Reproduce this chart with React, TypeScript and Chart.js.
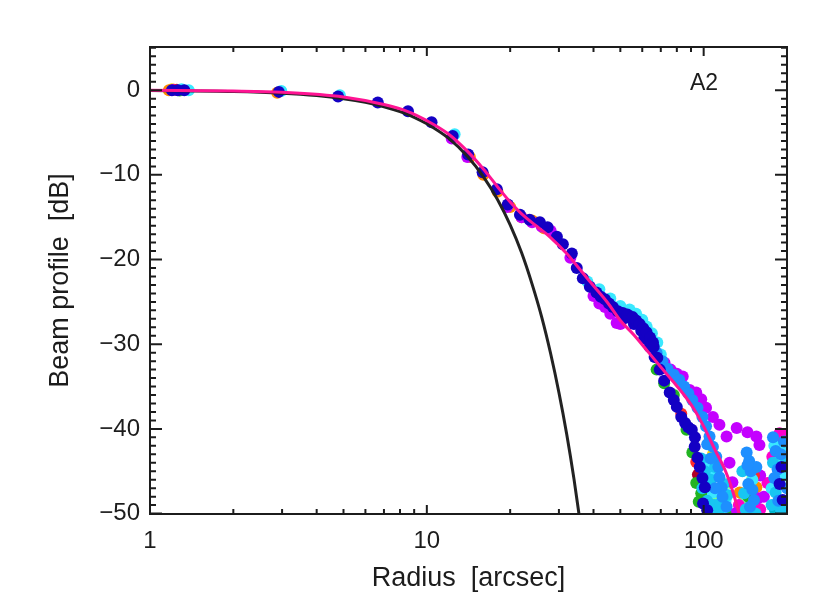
import React, { useEffect, useRef } from "react";
import { Chart, registerables } from "chart.js";

Chart.register(...registerables);

type Pt = [number, number];

// radius [arcsec], beam profile [dB]
const gaussR = [1, 2, 3, 4, 5, 6, 7, 8, 9, 10, 12, 14, 16, 18, 20, 22, 24, 26, 28, 30, 32, 34, 35.5];
const gaussDb = [-0.04, -0.16, -0.36, -0.64, -1.0, -1.43, -1.95, -2.54, -3.2, -3.97, -5.7, -7.8, -10.2, -12.9, -15.9, -19.2, -22.9, -26.8, -31.1, -35.7, -40.6, -45.9, -50.2];

const fitR = [1, 2, 3, 5, 7, 8.5, 10, 12, 14, 16, 18, 20, 22, 25, 28, 32, 36, 40, 45, 50, 56, 63, 70, 78, 85, 92, 100, 110, 120, 128, 135];
const fitDb = [0, -0.1, -0.25, -0.8, -1.7, -2.5, -3.6, -5.2, -7.2, -9.3, -11.4, -13.2, -14.6, -16.1, -17.4, -19.3, -21.3, -23.1, -25.1, -27.2, -28.9, -30.9, -32.7, -34.5, -36.0, -37.6, -39.7, -42.5, -45.0, -47.6, -50.3];

const darkBlue: Pt[] = [
  [1.2, 0], [1.26, 0], [1.33, 0], [2.92, -0.2], [4.78, -0.75], [6.65, -1.45], [8.55, -2.5],
  [10.4, -3.8], [12.4, -5.4], [14.1, -7.6], [15.9, -9.7], [17.9, -11.7], [19.6, -13.5],
  [21.7, -14.7], [23.5, -15.3], [25.6, -15.6], [27.3, -16.2], [29.5, -17.3], [31, -18.2],
  [33.4, -19.3], [34.8, -21], [36.6, -22.2], [38.8, -23.2], [41, -23.9], [42.5, -24.4], [44, -24.7],
  [45.5, -25.2], [47, -25.6], [49, -26.1], [51, -26.3], [52, -26.9], [53, -26.5], [55.4, -26.8],
  [56, -27.6], [57, -27.2], [58.7, -27.6], [59.5, -28.4], [60.5, -28.1], [61, -29.3], [62.2, -28.6],
  [64, -29.2], [65.6, -29.8], [63.8, -30.3], [66, -30.3], [66.5, -31.5], [68, -31.6],
  [69.4, -33], [72, -34.3], [75.4, -35.7], [78, -36.6], [80, -37.4], [83, -38.6], [85.7, -39.3],
  [88, -39.8], [90.6, -40.1], [93, -41], [92.8, -42.1], [95, -43.4], [96.8, -44.5], [99, -45.8],
  [101, -46.9], [99.5, -48.8], [103, -49.6], [191, -44.5], [193, -48.4], [188, -46.5],
];

const lightBlue: Pt[] = [
  [67.6, -31], [71, -32], [74, -32.9], [78, -33.6], [81.6, -34.2], [85, -35], [88, -35.8],
  [91, -36.6], [95, -37.5], [99, -38.6], [102, -39.7], [105, -40.9], [108, -42.1], [111, -43.3],
  [113, -44.5], [114, -45.7], [116, -46.9], [117, -48], [121, -49.2], [110, -47], [106, -43.5],
  [103, -41.8], [143, -42.8], [146, -43.8], [148, -45], [145, -46.5], [150, -47.2], [152, -48.4],
  [147, -49.2], [155, -44.5], [144, -44.3], [178, -41], [182, -42.6], [185, -44.8], [195, -41.5],
  [190, -43], [186, -48.5], [200, -47], [180, -45.8],
];

const skyBlue: Pt[] = [
  [98, -43.5], [101, -45], [99, -47], [103, -48.5], [106, -46], [110, -44.5], [113, -50],
  [118, -46.5], [122, -47.8], [105, -50], [109, -49], [115, -48.8], [140, -47.6], [138, -45],
  [142, -49.5], [154, -50], [178, -44], [182, -47.5], [190, -49.5], [198, -44], [176, -49],
];

const cyan: Pt[] = [
  [1.3, 0.1], [1.38, 0], [2.98, -0.1], [4.85, -0.6], [12.6, -5.2], [38, -22.6], [42, -23.5],
  [46, -24.6], [50, -25.5], [54, -25.9], [57, -26.4], [60, -27.1], [62.2, -27.9], [65, -28.7],
  [68, -29.8], [70, -31.2], [100, -44], [104, -46], [108, -47.5], [112, -49], [116, -50],
  [120, -48.5], [107, -44.8], [180, -42], [184, -44], [186, -46], [196, -42.5], [198, -45.5],
  [176, -47], [150, -46],
];

const purple: Pt[] = [
  [12.3, -5.7], [14, -7.9], [19.5, -13.8], [22, -15], [24, -15.6], [26, -16.1], [28, -16.6],
  [33, -19.8], [40, -24.3], [42, -25.2], [44, -25.6], [46, -26.4], [48.5, -27.5], [50, -27.6],
  [72.2, -32.2], [76, -33], [80, -33.5], [84, -33.8], [89, -35.4], [94, -35.7], [98, -36.5],
  [102, -37.5], [108, -38.6], [114, -39.5], [121, -40.9], [131.6, -39.9], [144, -40.4],
  [155, -40.9], [159, -41.9], [124, -44], [127, -46.3], [160, -45.5], [165, -48], [130, -50],
  [105, -49.2], [157, -48.2],
];

const magenta: Pt[] = [
  [1.22, 0.05], [188, -40.5], [183, -41.3], [196, -40.8], [200, -41.5], [177, -43.3],
  [170, -46.4], [134, -49], [102, -48.8], [106, -50], [160, -49.5], [125, -50.2],
];

const green: Pt[] = [
  [1.28, -0.05], [67.6, -33], [72, -34.6], [78, -36], [86.7, -40.1], [91, -42.8], [94, -46.4],
  [98, -47.6], [96, -48.6], [120, -50], [145, -48],
];

const red: Pt[] = [[1.25, 0.05], [94, -43.9], [83, -38.2], [152, -45.5]];
const darkRed: Pt[] = [[95.3, -45.4]];
const orange: Pt[] = [
  [1.17, 0], [2.88, -0.3], [14.3, -7.9], [16, -10], [18, -12], [20, -13.8], [22, -15],
  [24, -15.4], [26.5, -16.3], [155, -46.9], [135, -47.5], [118, -48.3],
];
const yellow: Pt[] = [[1.2, 0.1], [108, -43], [153, -49.6], [150, -49], [115, -50.2], [148, -50]];
const lightGreen: Pt[] = [[124, -46.4], [139, -48.6], [110, -45.5], [150, -45.8], [104, -50], [108, -48]];
const teal: Pt[] = [[181, -49.6], [185, -50], [196, -50]];

const pointSeries: [Pt[], string][] = [
  [darkBlue, "#1400c4"],
  [lightBlue, "#1e8fff"],
  [skyBlue, "#18c6f2"],
  [cyan, "#3ae8ff"],
  [green, "#22b422"],
  [red, "#ff2a2a"],
  [darkRed, "#b00028"],
  [purple, "#c400ff"],
  [magenta, "#ff00cc"],
  [orange, "#ff8c00"],
  [yellow, "#ffd800"],
  [lightGreen, "#7cff8a"],
  [teal, "#00b4cc"],
];

const xTickLabels = [1, 10, 100];
const yTickLabels = [0, -10, -20, -30, -40, -50];
const panelLabel = "A2";
const xTitle = "Radius  [arcsec]";
const yTitle = "Beam profile  [dB]";

const INK = "#1c1c1c";

const framePlugin = {
  id: "frame",
  afterDatasetsDraw(chart: any) {
    const { ctx, chartArea: a, scales } = chart;
    const xs = scales.x;
    const ys = scales.y;
    ctx.save();
    ctx.strokeStyle = INK;
    ctx.lineWidth = 2;
    ctx.strokeRect(a.left, a.top, a.right - a.left, a.bottom - a.top);
    ctx.beginPath();
    // log minor/major ticks on x
    for (let d = 1; d <= 100; d *= 10) {
      for (let m = 1; m <= 9; m++) {
        const v = d * m;
        if (v > 200) break;
        const px = xs.getPixelForValue(v);
        const len = m === 1 ? 9 : 5;
        ctx.moveTo(px, a.bottom);
        ctx.lineTo(px, a.bottom - len);
        ctx.moveTo(px, a.top);
        ctx.lineTo(px, a.top + len);
      }
    }
    // 1 dB minor ticks on y
    for (let v = -50; v <= 5; v++) {
      const py = ys.getPixelForValue(v);
      const len = v % 10 === 0 ? 12 : 6;
      ctx.moveTo(a.left, py);
      ctx.lineTo(a.left + len, py);
      ctx.moveTo(a.right, py);
      ctx.lineTo(a.right - len, py);
    }
    ctx.stroke();
    ctx.fillStyle = INK;
    ctx.font = "23px 'Liberation Sans', Arial, sans-serif";
    ctx.textAlign = "left";
    ctx.textBaseline = "alphabetic";
    ctx.fillText(panelLabel, a.right - 97, a.top + 43);
    ctx.restore();
  },
};

export default function App() {
  const canvasRef = useRef<HTMLCanvasElement | null>(null);

  useEffect(() => {
    if (!canvasRef.current) return;

    const datasets: any[] = [
      {
        type: "line",
        label: "fit",
        data: fitR.map((r, i) => ({ x: r, y: fitDb[i] })),
        borderColor: "#ff1493",
        borderWidth: 3,
        pointRadius: 0,
        cubicInterpolationMode: "monotone",
        clip: 0,
      },
      {
        type: "line",
        label: "gaussian",
        data: gaussR.map((r, i) => ({ x: r, y: gaussDb[i] })),
        borderColor: "#222222",
        borderWidth: 3,
        pointRadius: 0,
        cubicInterpolationMode: "monotone",
        clip: 0,
      },
      ...pointSeries.map(([pts, color]) => ({
        type: "scatter",
        data: pts.map(([x, y]) => ({ x, y })),
        backgroundColor: color,
        borderWidth: 0,
        pointRadius: 6,
        clip: 0,
      })),
    ];

    const tickFont = { family: "'Liberation Sans', Arial, sans-serif", size: 24 };
    const titleFont = { family: "'Liberation Sans', Arial, sans-serif", size: 27 };

    const chart = new Chart(canvasRef.current, {
      type: "scatter",
      data: { datasets },
      plugins: [framePlugin],
      options: {
        animation: false,
        responsive: true,
        maintainAspectRatio: false,
        layout: { padding: { left: 0, top: 47, right: 43, bottom: 0 } },
        plugins: { legend: { display: false }, tooltip: { enabled: false } },
        scales: {
          x: {
            type: "logarithmic",
            min: 1,
            max: 200,
            grid: { display: false, drawTicks: false },
            border: { display: false },
            afterBuildTicks: (s: any) => {
              s.ticks = xTickLabels.map((v) => ({ value: v }));
            },
            afterFit: (s: any) => {
              s.height = 95;
            },
            ticks: {
              autoSkip: false,
              maxRotation: 0,
              padding: 13,
              color: INK,
              font: tickFont,
              callback: (v: any) => String(v),
            },
            title: {
              display: true,
              text: xTitle,
              color: INK,
              font: titleFont,
              padding: { top: 0, bottom: 14 },
            },
          },
          y: {
            min: -50.05,
            max: 5.1,
            grid: { display: false, drawTicks: false },
            border: { display: false },
            afterBuildTicks: (s: any) => {
              s.ticks = yTickLabels.map((v) => ({ value: v }));
            },
            afterFit: (s: any) => {
              s.width = 150;
            },
            ticks: {
              padding: 10,
              color: INK,
              font: tickFont,
              callback: (v: any) => (Number(v) < 0 ? "\u2212" + Math.abs(Number(v)) : String(v)),
            },
            title: {
              display: true,
              text: yTitle,
              color: INK,
              font: titleFont,
              padding: { top: 44, bottom: 0 },
            },
          },
        },
      } as any,
    });

    return () => {
      chart.destroy();
    };
  }, []);

  return (
    <div style={{ position: "absolute", left: 0, top: 0, width: 830, height: 609, background: "#fff" }}>
      <canvas ref={canvasRef}></canvas>
    </div>
  );
}
